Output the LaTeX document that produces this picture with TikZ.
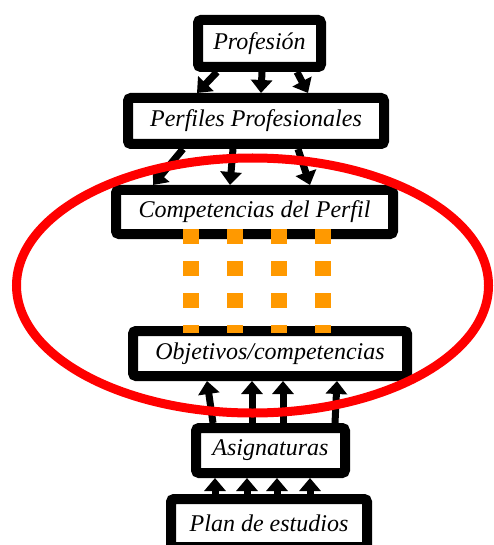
\documentclass[tikz,border=0pt]{standalone}
\usepackage{fontspec}
\setmainfont{Liberation Serif}
\usetikzlibrary{arrows.meta}
\definecolor{naranja}{HTML}{FF9900}

\begin{document}
\begin{tikzpicture}[
  x=1pt,y=-1pt,
  font=\fontsize{24}{28}\selectfont\itshape,
  >={Triangle[length=13pt,width=21pt]},
  caja/.style={draw=black,line width=10pt,rounded corners=3pt,fill=white,
               inner sep=0pt,align=center},
  flecha/.style={->,line width=7pt},
  puntos/.style={draw=naranja,line width=16pt,dash pattern=on 15pt off 17pt},
  anillo/.style={draw=red,line width=9pt}
]
\useasboundingbox (0,0) rectangle (493,545);

\node[caja,minimum width=123pt,minimum height=47pt] (prof) at (259.5,43.5) {Profesión};
\node[caja,minimum width=256pt,minimum height=46pt] (perf) at (256,121) {Perfiles Profesionales};
\node[caja,minimum width=277pt,minimum height=44pt] (comp) at (254.5,212) {Competencias del Perfil};
\node[caja,minimum width=274pt,minimum height=45pt] (obj) at (270,353.5) {Objetivos/competencias};
\node[caja,minimum width=149pt,minimum height=45pt] (asig) at (270.5,450.5) {Asignaturas};
\node[caja,minimum width=196pt,minimum height=48pt] (plan) at (269,523) {Plan de estudios};

% de la profesion a los perfiles
\draw[flecha] ([xshift=-42.5pt]prof.south) -- ([xshift=-59pt]perf.north);
\draw[flecha] ([xshift=2.5pt]prof.south) -- ([xshift=5pt]perf.north);
\draw[flecha] ([xshift=37.5pt]prof.south) -- ([xshift=52pt]perf.north);

% de los perfiles a las competencias
\draw[flecha] ([xshift=-73pt]perf.south) -- ([xshift=-101.5pt]comp.north);
\draw[flecha] ([xshift=-23pt]perf.south) -- ([xshift=-24.5pt]comp.north);
\draw[flecha] ([xshift=42pt]perf.south) -- ([xshift=55.5pt]comp.north);

% asignaturas hacia objetivos
\draw[flecha] ([xshift=-57.5pt]asig.north) -- ([xshift=-63pt]obj.south);
\draw[flecha] ([xshift=-18.5pt]asig.north) -- ([xshift=-18pt]obj.south);
\draw[flecha] ([xshift=12.5pt]asig.north) -- ([xshift=13pt]obj.south);
\draw[flecha] ([xshift=64.5pt]asig.north) -- ([xshift=67pt]obj.south);

% plan hacia asignaturas
\draw[flecha] ([xshift=-54pt]plan.north) -- ([xshift=-55.5pt]asig.south);
\draw[flecha] ([xshift=-22pt]plan.north) -- ([xshift=-23.5pt]asig.south);
\draw[flecha] ([xshift=8pt]plan.north) -- ([xshift=6.5pt]asig.south);
\draw[flecha] ([xshift=41pt]plan.north) -- ([xshift=39.5pt]asig.south);

% enlace punteado entre competencias y objetivos
\draw[puntos] ([xshift=-63.5pt,yshift=10pt]comp.south) -- ([xshift=-79pt,yshift=-7pt]obj.north);
\draw[puntos] ([xshift=-19.5pt,yshift=10pt]comp.south) -- ([xshift=-35pt,yshift=-7pt]obj.north);
\draw[puntos] ([xshift=24.5pt,yshift=10pt]comp.south) -- ([xshift=9pt,yshift=-7pt]obj.north);
\draw[puntos] ([xshift=68.5pt,yshift=10pt]comp.south) -- ([xshift=53pt,yshift=-7pt]obj.north);

\draw[anillo] (252.5,285.5) ellipse [x radius=236,y radius=127.5];

\end{tikzpicture}
\end{document}
